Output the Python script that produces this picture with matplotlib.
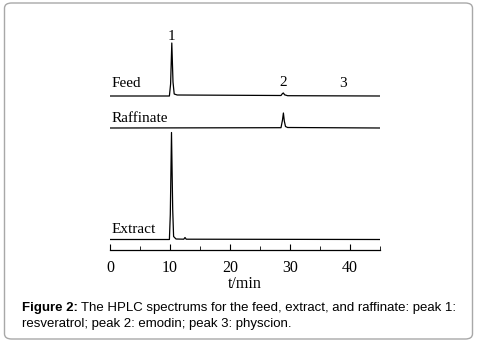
import matplotlib.pyplot as plt
from matplotlib.patches import FancyBboxPatch

# retention time (min) and detector signal
feed_t = [0, 9.9, 10.1, 10.3, 10.5, 10.7, 11.2, 28.5, 28.75, 28.9, 29.1, 29.6, 45]
feed_s = [0, 0, 12, 53, 14, 2, 1, 0.5, 2.5, 3, 1.2, 0.3, 0]

raff_t = [0, 28.5, 28.75, 28.9, 29.05, 29.25, 29.6, 45]
raff_s = [0, 0.3, 8, 15, 7, 1.5, 0.5, 0]

extr_t = [0, 9.9, 10.05, 10.25, 10.45, 10.6, 11.0, 12.3, 12.5, 12.7, 45]
extr_s = [0, 0, 25, 107, 30, 3, 0.5, 0.3, 2, 0.3, 0]

traces = ['Feed', 'Raffinate', 'Extract']
peak_labels = ['1', '2', '3']
peak_times = [10.3, 28.8, 38.9]

plt.rcParams['font.family'] = ['Liberation Serif', 'DejaVu Serif']

fig = plt.figure(figsize=(4.79, 3.46), dpi=100)

# rounded frame around figure + caption
box = FancyBboxPatch((4.5/479, 7/346), 468/479, 336/346,
                     boxstyle='round,pad=0,rounding_size=0.015',
                     transform=fig.transFigure, facecolor='white',
                     edgecolor='#a8a8a8', linewidth=1.0, zorder=-10)
fig.patches.append(box)

ax = fig.add_axes([110/479, (346-250)/346, 270/479, 220/346])
ax.patch.set_visible(False)
ax.set_xlim(0, 45)
ax.set_ylim(0, 220)

offsets = [154, 122, 10.5]
for t, s, off in zip([feed_t, raff_t, extr_t], [feed_s, raff_s, extr_s], offsets):
    ax.plot(t, [v + off for v in s], color='black', linewidth=0.9)

label_y = [163, 128, 17]
for name, y in zip(traces, label_y):
    ax.text(0.3, y, name, fontsize=11, ha='left', va='baseline')

peak_y = [210, 164, 163]
for lab, t, y in zip(peak_labels, peak_times, peak_y):
    ax.text(t, y, lab, fontsize=11, ha='center', va='baseline')

for side in ['left', 'right', 'top']:
    ax.spines[side].set_visible(False)
ax.spines['bottom'].set_linewidth(0.9)
ax.set_yticks([])
ax.set_xticks([0, 10, 20, 30, 40])
ax.set_xticks([5, 15, 25, 35, 45], minor=True)
ax.tick_params(axis='x', which='major', direction='in', length=4.5, labelsize=11.5, pad=7)
ax.tick_params(axis='x', which='minor', direction='in', length=3)
ax.set_xlabel('t/min', fontsize=11.5, labelpad=0)

sans = ['Liberation Sans', 'DejaVu Sans']
fig.text(22/479, 1 - 311/346, 'Figure 2:', fontsize=9.5, fontweight='bold',
         family=sans, va='baseline')
fig.text(81/479, 1 - 311/346,
         'The HPLC spectrums for the feed, extract, and raffinate: peak 1:',
         fontsize=9.5, family=sans, va='baseline')
fig.text(22/479, 1 - 327/346, 'resveratrol; peak 2: emodin; peak 3: physcion.',
         fontsize=9.5, family=sans, va='baseline')

fig.savefig('out.png', dpi=100)
